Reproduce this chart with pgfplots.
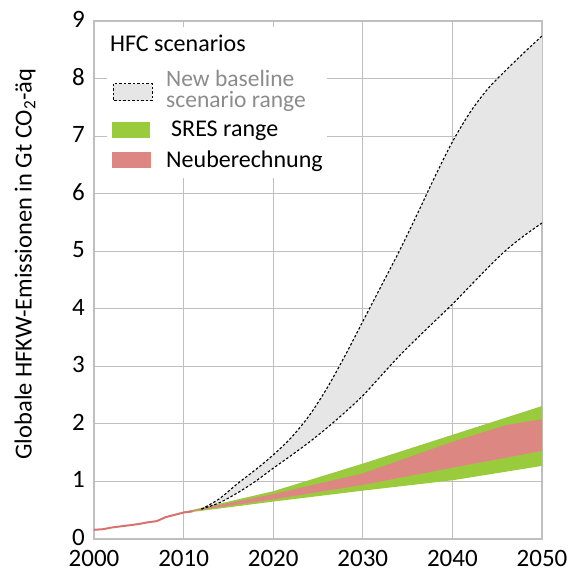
\documentclass[border=0pt]{standalone}
\usepackage{pgfplots}
\pgfplotsset{compat=1.18}
\usepackage{pgfplotstable}
\usepgfplotslibrary{fillbetween}
\usetikzlibrary{calc}
\usepackage{fontspec}
\setmainfont{Carlito}

\definecolor{gridgray}{HTML}{BFBFBF}
\definecolor{basefill}{HTML}{E6E6E6}
\definecolor{sresgreen}{HTML}{9ACB3C}
\definecolor{neupink}{HTML}{DD8783}
\definecolor{histred}{HTML}{D9716E}
\definecolor{legendgray}{HTML}{8C8C8C}

% New baseline scenario range: upper and lower bounds
\pgfplotstableread{
year  val
2012  0.52
2014  0.70
2016  0.96
2018  1.20
2020  1.46
2022  1.76
2024  2.14
2026  2.62
2028  3.18
2030  3.78
2032  4.38
2034  4.98
2036  5.62
2038  6.28
2040  6.90
2042  7.42
2044  7.83
2046  8.15
2048  8.45
2050  8.74
}\baseup
\pgfplotstableread{
year  val
2012  0.52
2014  0.63
2016  0.80
2018  1.00
2020  1.23
2022  1.45
2024  1.68
2026  1.93
2028  2.20
2030  2.49
2032  2.83
2034  3.17
2036  3.48
2038  3.78
2040  4.08
2042  4.40
2044  4.72
2046  5.02
2048  5.27
2050  5.49
}\baselow

% SRES range
\pgfplotstableread{
year  val
2010  0.47
2020  0.83
2030  1.31
2040  1.81
2050  2.31
}\sresup
\pgfplotstableread{
year  val
2010  0.45
2020  0.65
2030  0.84
2040  1.02
2050  1.27
}\sreslow

% Neuberechnung
\pgfplotstableread{
year  val
2010  0.47
2020  0.78
2030  1.14
2040  1.69
2046  1.98
2050  2.08
}\neuup
\pgfplotstableread{
year  val
2010  0.46
2020  0.69
2030  0.94
2040  1.24
2050  1.53
}\neulow

% Historical emissions
\pgfplotstableread{
year  val
2000  0.16
2001  0.17
2002  0.20
2003  0.22
2004  0.24
2005  0.26
2006  0.29
2007  0.31
2008  0.38
2009  0.42
2010  0.46
2011  0.48
}\hist

\begin{document}
\begin{tikzpicture}[x=1pt,y=1pt]
\begin{axis}[
  name=ax,
  scale only axis,
  width=448pt, height=518pt,
  xmin=2000, xmax=2050, ymin=0, ymax=9,
  xtick={2000,2010,...,2050},
  ytick={0,1,...,9},
  /pgf/number format/1000 sep={},
  /pgf/number format/assume math mode=true,
  tick label style={font=\fontsize{25}{25}\selectfont, text=black, inner sep=0pt},
  major tick length=0pt,
  grid=major,
  major grid style={gridgray, line width=1.2pt},
  axis line style={gridgray, line width=1.2pt},
  xticklabel style={yshift=-11pt},
  yticklabel style={xshift=-9pt, yshift=1.5pt},
  clip=true,
]
% baseline range
\addplot[name path=bu, draw=none, smooth, tension=0.5, forget plot] table[x=year,y=val]{\baseup};
\addplot[name path=bl, draw=none, smooth, tension=0.5, forget plot] table[x=year,y=val]{\baselow};
\addplot[basefill, forget plot] fill between[of=bu and bl];
\draw[legendgray!70, dashed, line width=1pt] (axis cs:2050,5.49) -- (axis cs:2050,8.74);
% SRES range
\addplot[name path=su, draw=none, forget plot] table[x=year,y=val]{\sresup};
\addplot[name path=sl, draw=none, forget plot] table[x=year,y=val]{\sreslow};
\addplot[sresgreen, forget plot] fill between[of=su and sl];
% Neuberechnung
\addplot[name path=nu, draw=none, forget plot] table[x=year,y=val]{\neuup};
\addplot[name path=nl, draw=none, forget plot] table[x=year,y=val]{\neulow};
\addplot[neupink, forget plot] fill between[of=nu and nl];
% baseline bounds
\addplot[black, line width=1.1pt, dash pattern=on 2.5pt off 2pt, smooth, tension=0.5] table[x=year,y=val]{\baseup};
\addplot[black, line width=1.1pt, dash pattern=on 2.5pt off 2pt, smooth, tension=0.5] table[x=year,y=val]{\baselow};
% history
\addplot[histred, line width=2pt] table[x=year,y=val]{\hist};
\end{axis}

% y axis title
\node[rotate=90, font=\fontsize{24.5}{24.5}\selectfont, inner sep=0pt]
  at ($(ax.west)+(-69pt,16pt)$) {Globale HFKW-Emissionen in Gt CO\textsubscript{2}-äq};

% legend
\begin{scope}[shift={(ax.north west)}, every node/.style={inner sep=0pt, anchor=base west}]
  \fill[white] (13,-6) rectangle (233,-157);
  \node[font=\fontsize{24}{24}\selectfont] at (16,-31) {HFC scenarios};
  \filldraw[fill=basefill, draw=black, line width=1pt, dash pattern=on 2.5pt off 2pt] (19,-63) rectangle (58,-80);
  \node[text=legendgray, font=\fontsize{23.5}{23.5}\selectfont] at (72,-66) {New baseline};
  \node[text=legendgray, font=\fontsize{23.5}{23.5}\selectfont] at (72,-87) {scenario range};
  \fill[sresgreen] (18,-101) rectangle (56,-117);
  \node[font=\fontsize{24}{24}\selectfont] at (77,-116) {SRES range};
  \fill[neupink] (18,-131) rectangle (57,-147);
  \node[font=\fontsize{24}{24}\selectfont] at (72,-147) {Neuberechnung};
\end{scope}

\pgfresetboundingbox
\path ($(ax.south west)+(-94pt,-34pt)$) rectangle ($(ax.north east)+(29pt,21pt)$);
\end{tikzpicture}
\end{document}
